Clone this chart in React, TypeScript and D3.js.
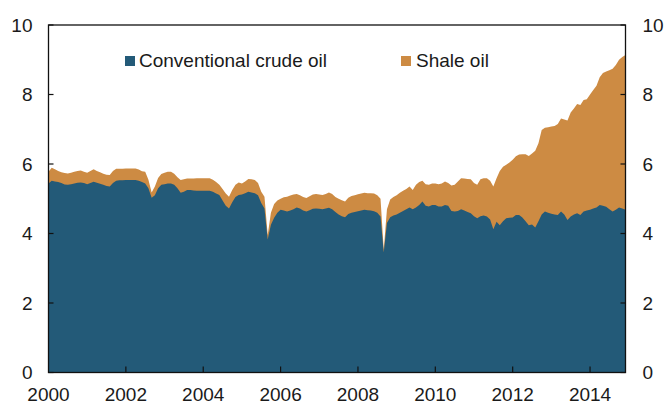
import React from "react";
import * as d3 from "d3";

const years = [2000, 2001, 2002, 2003, 2004, 2005, 2006, 2007, 2008, 2009, 2010, 2011, 2012, 2013, 2014];

// Monthly conventional crude oil (million b/d), Jan 2000 - Dec 2014
const conventional = [
  5.44, 5.52, 5.50, 5.48, 5.45, 5.41, 5.40, 5.42, 5.44, 5.46, 5.47, 5.45,
  5.42, 5.45, 5.49, 5.46, 5.43, 5.40, 5.37, 5.35, 5.45, 5.52, 5.53, 5.53,
  5.54, 5.54, 5.54, 5.54, 5.52, 5.48, 5.44, 5.30, 5.03, 5.10, 5.30, 5.40,
  5.42, 5.44, 5.44, 5.40, 5.30, 5.17, 5.20, 5.25, 5.25, 5.24, 5.23, 5.23,
  5.23, 5.23, 5.23, 5.20, 5.15, 5.11, 4.95, 4.80, 4.72, 4.90, 5.05, 5.11,
  5.12, 5.16, 5.20, 5.18, 5.16, 5.10, 4.88, 4.72, 3.83, 4.25, 4.45, 4.60,
  4.68, 4.66, 4.63, 4.66, 4.70, 4.75, 4.72, 4.66, 4.63, 4.67, 4.71, 4.72,
  4.71, 4.70, 4.72, 4.74, 4.70, 4.62, 4.55, 4.50, 4.47, 4.56, 4.60, 4.62,
  4.64, 4.66, 4.68, 4.67, 4.66, 4.64, 4.60, 4.49, 3.45, 4.30, 4.47, 4.52,
  4.55, 4.60, 4.65, 4.70, 4.75, 4.70, 4.75, 4.82, 4.92, 4.80, 4.78, 4.82,
  4.82, 4.78, 4.78, 4.82, 4.80, 4.65, 4.63, 4.65, 4.70, 4.66, 4.62, 4.58,
  4.50, 4.44, 4.50, 4.52, 4.49, 4.40, 4.12, 4.34, 4.24, 4.35, 4.44, 4.45,
  4.46, 4.53, 4.53, 4.46, 4.35, 4.24, 4.26, 4.17, 4.35, 4.55, 4.63, 4.60,
  4.57, 4.55, 4.53, 4.63, 4.55, 4.39, 4.49, 4.55, 4.58, 4.53, 4.63, 4.66,
  4.68, 4.72, 4.75, 4.82, 4.80, 4.77, 4.70, 4.63, 4.68, 4.75, 4.72, 4.68,
];

// Monthly total (conventional + shale)
const total = [
  5.78, 5.89, 5.85, 5.80, 5.76, 5.74, 5.73, 5.75, 5.78, 5.80, 5.81, 5.78,
  5.75, 5.80, 5.85, 5.80, 5.76, 5.72, 5.69, 5.68, 5.80, 5.86, 5.86, 5.86,
  5.87, 5.87, 5.87, 5.87, 5.84, 5.79, 5.78, 5.55, 5.18, 5.35, 5.60, 5.71,
  5.75, 5.78, 5.78, 5.72, 5.62, 5.54, 5.56, 5.58, 5.58, 5.58, 5.59, 5.59,
  5.59, 5.59, 5.59, 5.55, 5.48, 5.40, 5.28, 5.15, 5.06, 5.25, 5.40, 5.47,
  5.44, 5.50, 5.57, 5.56, 5.54, 5.45, 5.20, 5.06, 3.96, 4.60, 4.85, 4.95,
  5.00, 5.04, 5.06, 5.09, 5.12, 5.14, 5.10, 5.05, 5.02, 5.07, 5.12, 5.14,
  5.12, 5.11, 5.14, 5.18, 5.14, 5.05, 5.00, 4.96, 4.92, 5.03, 5.08, 5.10,
  5.13, 5.15, 5.17, 5.16, 5.16, 5.15, 5.10, 5.00, 3.53, 4.70, 4.98, 5.05,
  5.10, 5.17, 5.23, 5.28, 5.35, 5.25, 5.40, 5.48, 5.52, 5.42, 5.40, 5.44,
  5.44, 5.42, 5.44, 5.50, 5.45, 5.38, 5.40, 5.50, 5.59, 5.58, 5.57, 5.56,
  5.45, 5.40, 5.56, 5.59, 5.59, 5.52, 5.35, 5.59, 5.80, 5.92, 5.98, 6.04,
  6.12, 6.22, 6.27, 6.28, 6.28, 6.23, 6.30, 6.38, 6.60, 6.98, 7.04, 7.06,
  7.08, 7.09, 7.15, 7.31, 7.28, 7.25, 7.48, 7.60, 7.73, 7.70, 7.84, 7.86,
  8.00, 8.13, 8.25, 8.50, 8.62, 8.66, 8.70, 8.74, 8.85, 9.00, 9.08, 9.14,
];

const yTicks = [0, 2, 4, 6, 8, 10];
const xTicks = [2000, 2002, 2004, 2006, 2008, 2010, 2012, 2014];
const seriesNames = ["Conventional crude oil", "Shale oil"];

const BLUE = "#235a78";
const ORANGE = "#cd8b43";
const FONT = "'Liberation Sans', Arial, sans-serif";

export default function App() {
  const W = 664, H = 403;
  const left = 48.5, right = 625.5, top = 25, bottom = 372.5;

  const data = conventional.map((c, i) => ({
    t: years[0] + i / 12,
    conv: c,
    total: total[i],
  }));

  const x = d3.scaleLinear().domain([years[0], years[0] + (conventional.length - 1) / 12]).range([left, right]);
  const y = d3.scaleLinear().domain([0, 10]).range([bottom, top]);

  const areaTotal = d3.area<any>().x((d) => x(d.t)).y0(y(0)).y1((d) => y(d.total));
  const areaConv = d3.area<any>().x((d) => x(d.t)).y0(y(0)).y1((d) => y(d.conv));

  const textColor = "#1a1a1a";

  return (
    <svg width={W} height={H} style={{ position: "absolute", left: 0, top: 0 }} fontFamily={FONT}>
      <rect x={0} y={0} width={W} height={H} fill="white" />
      <path d={areaTotal(data) || ""} fill={ORANGE} />
      <path d={areaConv(data) || ""} fill={BLUE} />

      {/* frame */}
      <rect x={left} y={top} width={right - left} height={bottom - top} fill="none" stroke="#111" strokeWidth={1.3} />

      {/* y ticks & labels */}
      {yTicks.map((v) => (
        <g key={v}>
          <line x1={left} x2={left + 5} y1={y(v)} y2={y(v)} stroke="#111" strokeWidth={1.2} />
          <line x1={right - 5} x2={right} y1={y(v)} y2={y(v)} stroke="#111" strokeWidth={1.2} />
          <text x={left - 16} y={y(v)} dy="0.36em" textAnchor="end" fontSize={19} fill={textColor}>{v}</text>
          <text x={right + 17} y={y(v)} dy="0.36em" textAnchor="start" fontSize={19} fill={textColor}>{v}</text>
        </g>
      ))}

      {/* x ticks & labels */}
      {xTicks.map((v) => (
        <g key={v}>
          {v !== 2000 && (
            <line x1={x(v)} x2={x(v)} y1={bottom} y2={bottom - 6} stroke="#111" strokeWidth={1.2} />
          )}
          <text x={x(v)} y={401} textAnchor="middle" fontSize={19} fill={textColor}>{v}</text>
        </g>
      ))}

      {/* legend */}
      <rect x={125} y={56} width={10} height={10} fill={BLUE} />
      <text x={139} y={66.5} fontSize={19} fill={textColor}>{seriesNames[0]}</text>
      <rect x={401} y={56} width={10} height={10} fill={ORANGE} />
      <text x={416} y={66.5} fontSize={19} fill={textColor}>{seriesNames[1]}</text>
    </svg>
  );
}
